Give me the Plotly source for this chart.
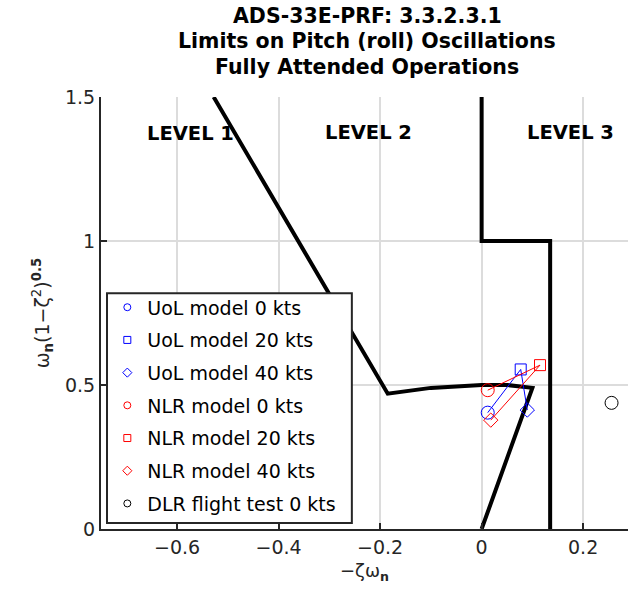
import plotly.graph_objects as go

# level boundaries
lvl12_x = [-0.528, -0.185, -0.1, 0.0, 0.05, 0.1, 0.0]
lvl12_y = [1.5, 0.47, 0.49, 0.50, 0.50, 0.49, 0.0]
lvl23_x = [0.0, 0.0, 0.135, 0.135]
lvl23_y = [1.5, 1.0, 1.0, 0.0]

speeds = ["0 kts", "20 kts", "40 kts"]
symbols = ["circle-open", "square-open", "diamond-open"]
marker_sizes = [13, 11, 11]

uol_x = [0.012, 0.077, 0.090]
uol_y = [0.404, 0.554, 0.413]
nlr_x = [0.012, 0.115, 0.018]
nlr_y = [0.482, 0.569, 0.378]
dlr_x = [0.256]
dlr_y = [0.438]

level_names = ["LEVEL 1", "LEVEL 2", "LEVEL 3"]
level_x = [-0.574, -0.222, 0.176]
level_y = [1.375, 1.378, 1.378]

FONT = "DejaVu Sans"
AX = "#262626"

fig = go.Figure()

# boundaries
for bx, by in [(lvl12_x, lvl12_y), (lvl23_x, lvl23_y)]:
    fig.add_trace(go.Scatter(x=bx, y=by, mode="lines", line=dict(color="black", width=4),
                             showlegend=False, hoverinfo="skip"))

# model results
for name, xs, ys, col in [("UoL model", uol_x, uol_y, "#0000ff"), ("NLR model", nlr_x, nlr_y, "#ff0000")]:
    fig.add_trace(go.Scatter(x=xs, y=ys, mode="lines", line=dict(color=col, width=1),
                             showlegend=False, hoverinfo="skip"))
    for i in range(3):
        fig.add_trace(go.Scatter(x=[xs[i]], y=[ys[i]], mode="markers", showlegend=False,
                                 marker=dict(symbol=symbols[i], size=marker_sizes[i], color=col,
                                             line=dict(color=col, width=1))))

fig.add_trace(go.Scatter(x=dlr_x, y=dlr_y, mode="markers", showlegend=False,
                         marker=dict(symbol="circle-open", size=13, color="black",
                                     line=dict(color="black", width=1))))

# legend entries (small symbols like the original)
legend_items = []
for name, col in [("UoL model", "#0000ff"), ("NLR model", "#ff0000")]:
    for i in range(3):
        legend_items.append((f"{name} {speeds[i]}", symbols[i], col))
legend_items.append(("DLR flight test 0 kts", "circle-open", "black"))
for k, (label, sym, col) in enumerate(legend_items):
    fig.add_trace(go.Scatter(x=[None], y=[None], mode="markers", name=label, legendgroup=f"g{k}",
                             marker=dict(symbol=sym, size=7, color=col, line=dict(color=col, width=1))))

# legend box drawn as a shape so its size matches the original
fig.add_shape(type="rect", xref="paper", yref="paper", x0=0.0114, x1=0.476, y0=0.0139, y1=0.546,
              fillcolor="white", line=dict(color=AX, width=2), layer="above")

for name, lx, ly in zip(level_names, level_x, level_y):
    fig.add_annotation(x=lx, y=ly, text=f"<b>{name}</b>", showarrow=False,
                       font=dict(family=FONT, size=19.5, color="black"))

title_lines = ["ADS-33E-PRF: 3.3.2.3.1", "Limits on Pitch (roll) Oscillations", "Fully Attended Operations"]
title_py = [16, 41, 67]
for txt, py in zip(title_lines, title_py):
    fig.add_annotation(xref="paper", yref="paper", x=0.505, y=(529 - py) / 432.3, yanchor="middle",
                       text=f"<b>{txt}</b>", showarrow=False, font=dict(family=FONT, size=20.5, color="black"))

axis_common = dict(showgrid=True, gridcolor="#dcdcdc", gridwidth=1.5, zeroline=False,
                   showline=True, linecolor=AX, linewidth=2, ticks="inside", ticklen=6,
                   tickwidth=2, tickcolor=AX, mirror=False,
                   tickfont=dict(family=FONT, size=19, color=AX))

fig.update_xaxes(range=[-0.75, 0.2884], tick0=0, dtick=0.2,
                 title=dict(text="−ζω<sub><b>n</b></sub>", font=dict(family=FONT, size=18, color=AX), standoff=8),
                 **axis_common)
fig.update_yaxes(range=[0, 1.5], tick0=0, dtick=0.5,
                 title=dict(text="ω<sub><b>n</b></sub>(1−ζ<sup>2</sup>)<sup><b>0.5</b></sup>",
                            font=dict(family=FONT, size=19, color=AX), standoff=10),
                 **axis_common)

fig.update_layout(
    width=628, height=599,
    margin=dict(l=101, r=0, t=97, b=70, autoexpand=False),
    plot_bgcolor="white", paper_bgcolor="white",
    font=dict(family=FONT, color=AX),
    legend=dict(x=0.012, y=0.557, xanchor="left", yanchor="top", bgcolor="rgba(0,0,0,0)",
                borderwidth=0, traceorder="grouped", tracegroupgap=5,
                font=dict(family=FONT, size=19, color="black")),
)

# remove the default page margin so the figure sits at the window origin
fig.write_html("out.html", config={"displayModeBar": False},
               post_script="document.body.style.margin='0px';")
